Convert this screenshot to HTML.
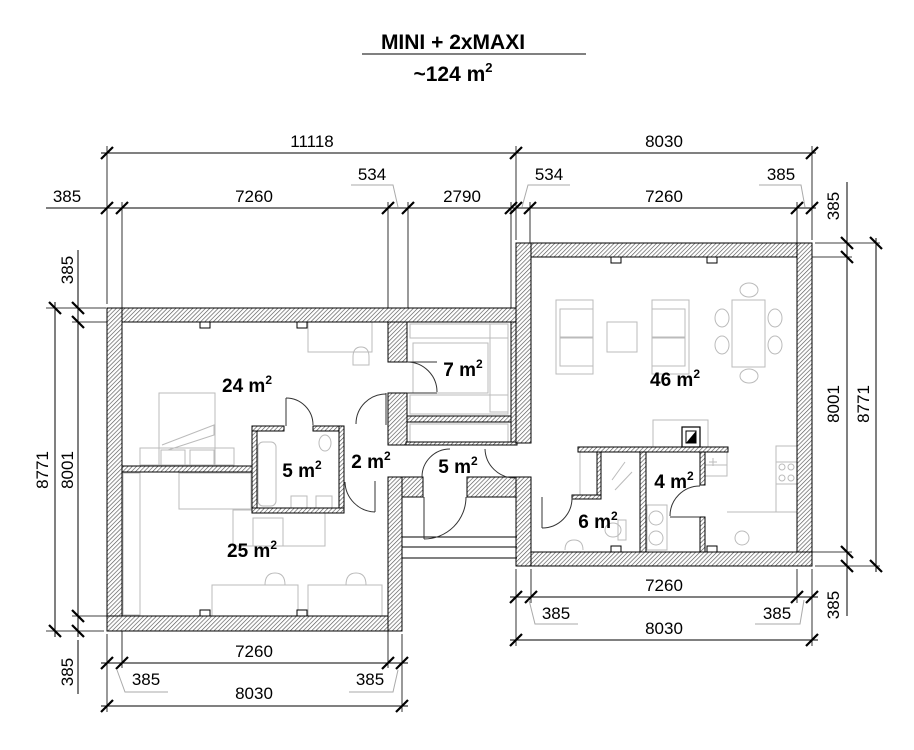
<!DOCTYPE html>
<html><head><meta charset="utf-8">
<style>
html,body{margin:0;padding:0;background:#fff;}
svg{display:block;font-family:"Liberation Sans",Arial,sans-serif;}
.d{stroke:#000;stroke-width:1;fill:none}
.t{stroke:#000;stroke-width:2.2}
.e{stroke:#000;stroke-width:0.8;fill:none}
.w{fill:url(#h);stroke:#000;stroke-width:1}
.f{stroke:#bbb;stroke-width:1;fill:none}
.dr{stroke:#333;stroke-width:1;fill:none}
.n{font-size:17px;fill:#000}
.a{font-size:19px;font-weight:bold;fill:#000}
.ld{stroke:#aaa;stroke-width:1;fill:none}
</style></head><body>
<svg width="914" height="750" viewBox="0 0 914 750" xmlns="http://www.w3.org/2000/svg">
<defs>
<pattern id="h" width="3" height="3" patternUnits="userSpaceOnUse" patternTransform="rotate(45)">
<rect width="3" height="3" fill="#fff"/><line x1="0" y1="0" x2="0" y2="3" stroke="#555" stroke-width="1.3"/>
</pattern>
</defs>

<!-- Title -->
<text x="453" y="49" text-anchor="middle" font-size="21" font-weight="bold">MINI + 2xMAXI</text>
<line x1="362" y1="54" x2="586" y2="54" stroke="#000" stroke-width="1"/>
<text x="453" y="81" text-anchor="middle" font-size="21" font-weight="bold">~124 m<tspan font-size="13" dy="-9">2</tspan></text>

<!-- TOP DIMENSIONS -->
<line class="d" x1="101" y1="153" x2="517" y2="153"/>
<line class="d" x1="46" y1="208" x2="520" y2="208"/>
<line class="d" x1="516" y1="153" x2="816" y2="153"/>
<line class="d" x1="510" y1="208" x2="816" y2="208"/>
<line class="e" x1="107" y1="146" x2="107" y2="304"/>
<line class="e" x1="122" y1="202" x2="122" y2="325"/>
<line class="e" x1="388" y1="202" x2="388" y2="325"/>
<line class="e" x1="408" y1="202" x2="408" y2="318"/>
<line class="e" x1="511" y1="202" x2="511" y2="318"/>
<line class="e" x1="516" y1="146" x2="516" y2="240"/>
<line class="e" x1="530" y1="202" x2="530" y2="260"/>
<line class="e" x1="797" y1="202" x2="797" y2="260"/>
<line class="e" x1="812" y1="146" x2="812" y2="240"/>
<g class="t">
<line x1="101" y1="159" x2="113" y2="147"/>
<line x1="510" y1="159" x2="522" y2="147"/>
<line x1="806" y1="159" x2="818" y2="147"/>
<line x1="101" y1="214" x2="113" y2="202"/>
<line x1="116" y1="214" x2="128" y2="202"/>
<line x1="382" y1="214" x2="394" y2="202"/>
<line x1="402" y1="214" x2="414" y2="202"/>
<line x1="505" y1="214" x2="517" y2="202"/>
<line x1="510" y1="214" x2="522" y2="202"/>
<line x1="524" y1="214" x2="536" y2="202"/>
<line x1="791" y1="214" x2="803" y2="202"/>
<line x1="806" y1="214" x2="818" y2="202"/>
</g>
<text class="n" x="312" y="147" text-anchor="middle">11118</text>
<text class="n" x="664" y="147" text-anchor="middle">8030</text>
<text class="n" x="67" y="202" text-anchor="middle">385</text>
<text class="n" x="254" y="202" text-anchor="middle">7260</text>
<text class="n" x="372" y="180" text-anchor="middle">534</text>
<polyline class="ld" points="351,185 393,185 398,207"/>
<text class="n" x="462" y="202" text-anchor="middle">2790</text>
<text class="n" x="549" y="180" text-anchor="middle">534</text>
<polyline class="ld" points="570,185 528,185 522,207"/>
<text class="n" x="664" y="202" text-anchor="middle">7260</text>
<text class="n" x="781" y="180" text-anchor="middle">385</text>
<polyline class="ld" points="759,185 801,185 805,207"/>

<!-- LEFT DIMENSIONS -->
<line class="d" x1="78" y1="250" x2="78" y2="637"/>
<line class="d" x1="55" y1="302" x2="55" y2="637"/>
<line class="d" x1="78" y1="640" x2="78" y2="694"/>
<line class="e" x1="46" y1="308" x2="106" y2="308"/>
<line class="e" x1="72" y1="322" x2="120" y2="322"/>
<line class="e" x1="72" y1="616" x2="120" y2="616"/>
<line class="e" x1="46" y1="631" x2="104" y2="631"/>
<g class="t">
<line x1="72" y1="302" x2="84" y2="314"/>
<line x1="72" y1="316" x2="84" y2="328"/>
<line x1="72" y1="610" x2="84" y2="622"/>
<line x1="72" y1="625" x2="84" y2="637"/>
<line x1="49" y1="302" x2="61" y2="314"/>
<line x1="49" y1="625" x2="61" y2="637"/>
</g>
<text class="n" transform="translate(73,270) rotate(-90)" text-anchor="middle">385</text>
<text class="n" transform="translate(73,470) rotate(-90)" text-anchor="middle">8001</text>
<text class="n" transform="translate(48,470) rotate(-90)" text-anchor="middle">8771</text>
<text class="n" transform="translate(73,672) rotate(-90)" text-anchor="middle">385</text>

<!-- RIGHT DIMENSIONS -->
<line class="d" x1="847" y1="182" x2="847" y2="616"/>
<line class="d" x1="876" y1="238" x2="876" y2="572"/>
<line class="e" x1="815" y1="243" x2="880" y2="243"/>
<line class="e" x1="800" y1="257" x2="852" y2="257"/>
<line class="e" x1="800" y1="552" x2="852" y2="552"/>
<line class="e" x1="815" y1="566" x2="880" y2="566"/>
<g class="t">
<line x1="841" y1="237" x2="853" y2="249"/>
<line x1="841" y1="251" x2="853" y2="263"/>
<line x1="841" y1="546" x2="853" y2="558"/>
<line x1="841" y1="560" x2="853" y2="572"/>
<line x1="870" y1="237" x2="882" y2="249"/>
<line x1="870" y1="560" x2="882" y2="572"/>
</g>
<text class="n" transform="translate(839,206) rotate(-90)" text-anchor="middle">385</text>
<text class="n" transform="translate(839,404) rotate(-90)" text-anchor="middle">8001</text>
<text class="n" transform="translate(869,404) rotate(-90)" text-anchor="middle">8771</text>
<text class="n" transform="translate(839,605) rotate(-90)" text-anchor="middle">385</text>

<!-- BOTTOM LEFT DIMENSIONS -->
<line class="d" x1="101" y1="663" x2="408" y2="663"/>
<line class="d" x1="101" y1="706" x2="408" y2="706"/>
<line class="e" x1="107" y1="634" x2="107" y2="712"/>
<line class="e" x1="122" y1="619" x2="122" y2="668"/>
<line class="e" x1="388" y1="619" x2="388" y2="668"/>
<line class="e" x1="402" y1="634" x2="402" y2="712"/>
<g class="t">
<line x1="101" y1="669" x2="113" y2="657"/>
<line x1="116" y1="669" x2="128" y2="657"/>
<line x1="382" y1="669" x2="394" y2="657"/>
<line x1="396" y1="669" x2="408" y2="657"/>
<line x1="101" y1="712" x2="113" y2="700"/>
<line x1="396" y1="712" x2="408" y2="700"/>
</g>
<text class="n" x="254" y="657" text-anchor="middle">7260</text>
<text class="n" x="254" y="699" text-anchor="middle">8030</text>
<text class="n" x="146" y="685" text-anchor="middle">385</text>
<polyline class="ld" points="168,692 125,692 117,670"/>
<text class="n" x="370" y="685" text-anchor="middle">385</text>
<polyline class="ld" points="349,692 393,692 398,670"/>

<!-- BOTTOM RIGHT DIMENSIONS -->
<line class="d" x1="510" y1="597" x2="818" y2="597"/>
<line class="d" x1="510" y1="640" x2="818" y2="640"/>
<line class="e" x1="516" y1="569" x2="516" y2="646"/>
<line class="e" x1="531" y1="569" x2="531" y2="603"/>
<line class="e" x1="797" y1="569" x2="797" y2="603"/>
<line class="e" x1="812" y1="569" x2="812" y2="646"/>
<g class="t">
<line x1="510" y1="603" x2="522" y2="591"/>
<line x1="525" y1="603" x2="537" y2="591"/>
<line x1="791" y1="603" x2="803" y2="591"/>
<line x1="806" y1="603" x2="818" y2="591"/>
<line x1="510" y1="646" x2="522" y2="634"/>
<line x1="806" y1="646" x2="818" y2="634"/>
</g>
<text class="n" x="664" y="591" text-anchor="middle">7260</text>
<text class="n" x="664" y="634" text-anchor="middle">8030</text>
<text class="n" x="556" y="619" text-anchor="middle">385</text>
<polyline class="ld" points="578,624 535,624 529,600"/>
<text class="n" x="777" y="619" text-anchor="middle">385</text>
<polyline class="ld" points="755,624 800,624 804,600"/>

<!-- FURNITURE -->
<g class="f">
<rect x="308" y="322" width="64" height="30"/>
<path d="M353,357 q0,-10 8,-10 q8,0 8,10 v8 h-16z"/>
<rect x="159" y="393" width="56" height="72"/>
<rect x="140" y="448" width="94" height="17"/>
<rect x="161" y="450" width="24" height="15"/><rect x="190" y="450" width="24" height="15"/>
<path d="M162,445 L214,425 L214,435 L168,450"/>
<rect x="410" y="324" width="98" height="14"/>
<rect x="410" y="395" width="98" height="19"/>
<rect x="410" y="424" width="98" height="18"/>
<rect x="490" y="324" width="18" height="88"/>
<rect x="413" y="343" width="75" height="50"/>
<rect x="258" y="442" width="18" height="64" rx="5"/>
<ellipse cx="325" cy="443" rx="6" ry="8"/>
<rect x="291" y="496" width="16" height="14"/><rect x="316" y="496" width="16" height="14"/>
<rect x="179" y="473" width="72" height="36"/>
<rect x="233" y="510" width="92" height="36"/>
<rect x="253" y="518" width="30" height="28"/>
<rect x="212" y="585" width="86" height="31"/><rect x="308" y="585" width="74" height="31"/>
<path d="M265,585 q0,-12 10,-12 q10,0 10,12z"/><path d="M346,585 q0,-12 10,-12 q10,0 10,12z"/>
<rect x="123" y="473" width="17" height="142"/>
<rect x="556" y="300" width="37" height="74"/><rect x="560" y="309" width="33" height="28"/><rect x="560" y="338" width="33" height="28"/>
<rect x="607" y="322" width="30" height="30"/>
<rect x="652" y="300" width="37" height="74"/><rect x="652" y="309" width="33" height="28"/><rect x="652" y="338" width="33" height="28"/>
<rect x="732" y="300" width="33" height="67"/>
<ellipse cx="749" cy="290" rx="9" ry="7"/><ellipse cx="749" cy="376" rx="9" ry="7"/>
<ellipse cx="722" cy="318" rx="7" ry="9"/><ellipse cx="722" cy="345" rx="7" ry="9"/>
<ellipse cx="775" cy="318" rx="7" ry="9"/><ellipse cx="775" cy="345" rx="7" ry="9"/>
<rect x="653" y="420" width="55" height="27"/>
<rect x="776" y="446" width="21" height="66"/><rect x="776" y="462" width="21" height="22"/>
<circle cx="782" cy="467" r="3"/><circle cx="791" cy="467" r="3"/><circle cx="782" cy="478" r="3"/><circle cx="791" cy="478" r="3"/>
<path d="M705,465 h22 M727,512 h49 M727,465 v-13"/>
<rect x="705" y="452" width="22" height="24"/>
<path d="M709,462 h8 M713,458 v8"/>
<circle cx="742" cy="538" r="7"/>
<rect x="580" y="452" width="17" height="43"/>
<path d="M612,480 L625,462 M615,490 L632,472"/>
<rect x="647" y="505" width="20" height="45"/>
<circle cx="656" cy="518" r="7"/><circle cx="656" cy="538" r="7"/>
<path d="M618,520 h8 v20 h-8z"/>
<ellipse cx="613" cy="530" rx="8" ry="7"/>
<path d="M565,550 q0,-10 9,-10 q9,0 9,10"/>
</g>

<!-- WALLS -->
<g class="w">
<rect x="107" y="308" width="410" height="14"/>
<rect x="107" y="308" width="15" height="323"/>
<rect x="107" y="616" width="295" height="15"/>
<rect x="388" y="477" width="14" height="154"/>
<rect x="122" y="466" width="131" height="6"/>
<rect x="252" y="426" width="5" height="87"/>
<rect x="252" y="426" width="32" height="5"/>
<rect x="313" y="426" width="31" height="5"/>
<rect x="339" y="426" width="5" height="87"/>
<rect x="252" y="508" width="92" height="5"/>
<rect x="388" y="322" width="19" height="40"/>
<rect x="388" y="393" width="19" height="52"/>
<rect x="407" y="416" width="104" height="6"/>
<rect x="511" y="322" width="6" height="121"/>
<rect x="406" y="442" width="111" height="3"/>
<rect x="402" y="477" width="21" height="20"/>
<rect x="467" y="477" width="50" height="20"/>
<rect x="516" y="243" width="296" height="14"/>
<rect x="797" y="243" width="15" height="323"/>
<rect x="516" y="552" width="296" height="14"/>
<rect x="516" y="243" width="15" height="200"/>
<rect x="516" y="477" width="15" height="89"/>
<rect x="578" y="447" width="150" height="5"/>
<rect x="597" y="452" width="4" height="45"/>
<rect x="572" y="495" width="29" height="4"/>
<rect x="640" y="452" width="6" height="100"/>
<rect x="700" y="452" width="5" height="33"/>
<rect x="700" y="517" width="5" height="35"/>
</g>
<g fill="#fff" stroke="#000" stroke-width="1">
<rect x="200" y="322" width="10" height="6"/><rect x="297" y="322" width="10" height="6"/>
<rect x="200" y="610" width="10" height="6"/><rect x="297" y="610" width="10" height="6"/>
<rect x="611" y="257" width="10" height="6"/><rect x="707" y="257" width="10" height="6"/>
<rect x="611" y="546" width="10" height="6"/><rect x="707" y="546" width="10" height="6"/>
</g>
<rect x="682" y="427" width="18" height="20" fill="#fff" stroke="#000" stroke-width="1.2"/>
<rect x="686" y="431" width="10" height="12" fill="#fff" stroke="#000"/>
<path d="M686,443 L696,431 L696,443z" fill="#000"/>

<g stroke="#000" stroke-width="1">
<line x1="402" y1="537" x2="517" y2="537"/>
<line x1="402" y1="547" x2="517" y2="547"/>
<line x1="402" y1="558" x2="517" y2="558"/>
</g>

<g class="dr">
<line x1="407" y1="362" x2="437" y2="362"/>
<path d="M407,362 A30,30 0 0 1 437,392"/><line x1="407" y1="393" x2="437" y2="393"/>
<line x1="386" y1="393" x2="386" y2="425"/><path d="M386,394 A30,30 0 0 0 356,424"/>
<line x1="286" y1="398" x2="286" y2="426"/><path d="M286,398 A27,27 0 0 1 313,425"/>
<line x1="375" y1="481" x2="375" y2="512"/><path d="M345,482 A31,31 0 0 0 375,512"/>
<path d="M422,477 A28,28 0 0 1 450,449"/><path d="M485,449 A30,30 0 0 0 515,478"/>
<line x1="424" y1="497" x2="424" y2="539"/><path d="M424,539 A42,42 0 0 0 466,497"/>
<line x1="542" y1="497" x2="542" y2="528"/><path d="M542,528 A30,30 0 0 0 572,498"/>
<line x1="670" y1="517" x2="700" y2="517"/><path d="M670,516 A30,30 0 0 1 700,486"/>
</g>

<text class="a" x="247" y="392" text-anchor="middle">24 m<tspan font-size="12" dy="-8">2</tspan></text>
<text class="a" x="463" y="376" text-anchor="middle">7 m<tspan font-size="12" dy="-8">2</tspan></text>
<text class="a" x="675" y="386" text-anchor="middle">46 m<tspan font-size="12" dy="-8">2</tspan></text>
<text class="a" x="302" y="477" text-anchor="middle">5 m<tspan font-size="12" dy="-8">2</tspan></text>
<text class="a" x="371" y="468" text-anchor="middle">2 m<tspan font-size="12" dy="-8">2</tspan></text>
<text class="a" x="458" y="473" text-anchor="middle">5 m<tspan font-size="12" dy="-8">2</tspan></text>
<text class="a" x="674" y="488" text-anchor="middle">4 m<tspan font-size="12" dy="-8">2</tspan></text>
<text class="a" x="598" y="528" text-anchor="middle">6 m<tspan font-size="12" dy="-8">2</tspan></text>
<text class="a" x="252" y="557" text-anchor="middle">25 m<tspan font-size="12" dy="-8">2</tspan></text>
</svg>
</body></html>
